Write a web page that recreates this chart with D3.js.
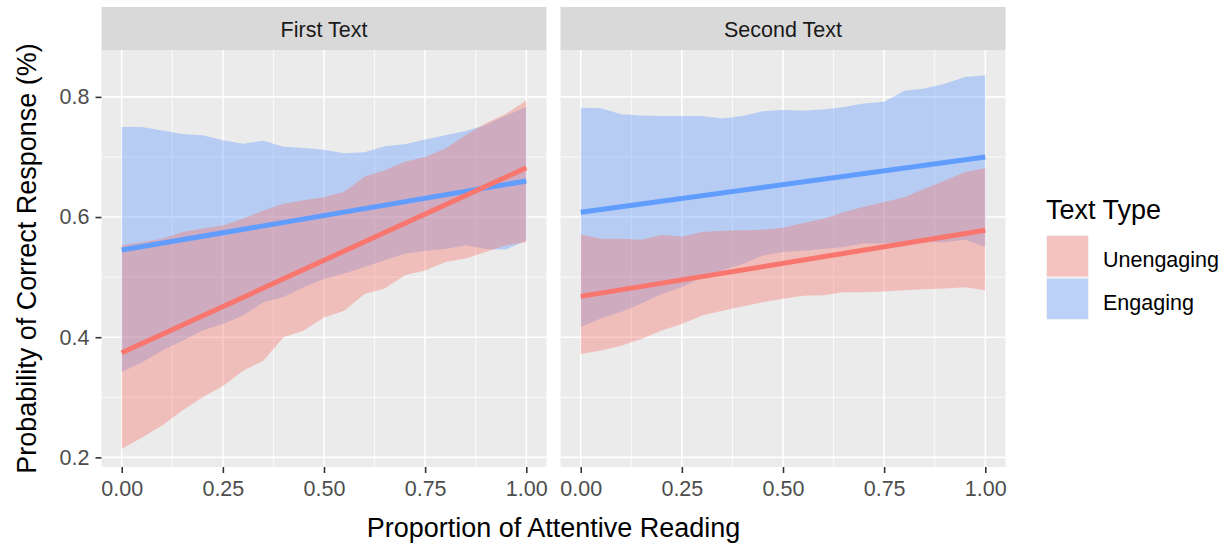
<!DOCTYPE html>
<html>
<head>
<meta charset="utf-8">
<script src="https://cdn.jsdelivr.net/npm/d3@7"></script>
<style>
body { margin: 0; background: #fff; }
text { font-family: "Liberation Sans", Arial, sans-serif; }
</style>
</head>
<body>
<svg id="chart" width="1226" height="544"></svg>
<script>
// data
var panels = ["First Text", "Second Text"];
var groups = ["Unengaging", "Engaging"];
var xTicks = [0, 0.25, 0.5, 0.75, 1];
var yTicks = [0.2, 0.4, 0.6, 0.8];
var xs = [0,0.05,0.1,0.15,0.2,0.25,0.3,0.35,0.4,0.45,0.5,0.55,0.6,0.65,0.7,0.75,0.8,0.85,0.9,0.95,1];

// fitted lines [value at 0, value at 1]
var fit1Unengaging = [0.374, 0.682];
var fit1Engaging = [0.545, 0.660];
var fit2Unengaging = [0.468, 0.578];
var fit2Engaging = [0.608, 0.700];

// ribbons, one value per xs
var lo1Unengaging = [0.214,0.233,0.253,0.278,0.300,0.319,0.344,0.361,0.400,0.411,0.433,0.444,0.472,0.481,0.503,0.511,0.525,0.531,0.542,0.553,0.558];
var hi1Unengaging = [0.553,0.558,0.564,0.575,0.581,0.586,0.597,0.611,0.622,0.628,0.633,0.642,0.667,0.678,0.692,0.700,0.714,0.736,0.756,0.772,0.794];
var lo1Engaging = [0.342,0.358,0.378,0.394,0.411,0.422,0.436,0.458,0.467,0.483,0.497,0.506,0.517,0.528,0.539,0.544,0.547,0.553,0.547,0.546,0.561];
var hi1Engaging = [0.750,0.750,0.744,0.738,0.736,0.728,0.722,0.727,0.717,0.715,0.712,0.706,0.708,0.718,0.721,0.729,0.736,0.743,0.753,0.769,0.783];
var lo2Unengaging = [0.372,0.378,0.386,0.397,0.411,0.422,0.436,0.444,0.451,0.458,0.464,0.469,0.470,0.475,0.475,0.476,0.478,0.480,0.481,0.483,0.478];
var hi2Unengaging = [0.571,0.564,0.564,0.562,0.570,0.567,0.575,0.577,0.578,0.579,0.582,0.590,0.597,0.608,0.617,0.625,0.633,0.647,0.661,0.675,0.681];
var lo2Engaging = [0.417,0.431,0.442,0.456,0.472,0.483,0.500,0.511,0.522,0.536,0.542,0.544,0.547,0.550,0.556,0.556,0.558,0.558,0.558,0.562,0.550];
var hi2Engaging = [0.782,0.781,0.771,0.769,0.768,0.768,0.768,0.764,0.768,0.776,0.778,0.777,0.779,0.783,0.789,0.792,0.810,0.814,0.822,0.833,0.836];

var colors = {Unengaging: "#F8766D", Engaging: "#619CFF"};

// draw order: blue below, pink on top
var series = [
  {panel: 0, group: "Engaging", lo: lo1Engaging, hi: hi1Engaging, fit: fit1Engaging},
  {panel: 0, group: "Unengaging", lo: lo1Unengaging, hi: hi1Unengaging, fit: fit1Unengaging},
  {panel: 1, group: "Engaging", lo: lo2Engaging, hi: hi2Engaging, fit: fit2Engaging},
  {panel: 1, group: "Unengaging", lo: lo2Unengaging, hi: hi2Unengaging, fit: fit2Unengaging}
];

var svg = d3.select("#chart");
var panelLeft = [101.5, 560.5], panelW = 445;
var panelTop = 50, panelBottom = 467, stripTop = 7;
var font = "Liberation Sans, Arial, sans-serif";

var y = d3.scaleLinear().domain([0.184, 0.878]).range([panelBottom, panelTop]);

panels.forEach(function(name, i){
  var x = d3.scaleLinear().domain([-0.05, 1.05]).range([panelLeft[i], panelLeft[i] + panelW]);
  var g = svg.append("g");

  g.append("rect").attr("x", panelLeft[i]).attr("y", stripTop).attr("width", panelW)
    .attr("height", panelTop - stripTop).attr("fill", "#D9D9D9");
  g.append("text").attr("x", panelLeft[i] + panelW/2).attr("y", 36.5)
    .attr("text-anchor", "middle").attr("font-size", 21.5).attr("fill", "#1A1A1A").text(name);

  g.append("rect").attr("x", panelLeft[i]).attr("y", panelTop).attr("width", panelW)
    .attr("height", panelBottom - panelTop).attr("fill", "#EBEBEB");

  // minor grid
  [0.125, 0.375, 0.625, 0.875].forEach(function(v){
    g.append("line").attr("x1", x(v)).attr("x2", x(v)).attr("y1", panelTop).attr("y2", panelBottom)
      .attr("stroke", "#fff").attr("stroke-width", 0.8);
  });
  [0.3, 0.5, 0.7].forEach(function(v){
    g.append("line").attr("x1", panelLeft[i]).attr("x2", panelLeft[i] + panelW).attr("y1", y(v)).attr("y2", y(v))
      .attr("stroke", "#fff").attr("stroke-width", 0.8);
  });
  // major grid
  xTicks.forEach(function(v){
    g.append("line").attr("x1", x(v)).attr("x2", x(v)).attr("y1", panelTop).attr("y2", panelBottom)
      .attr("stroke", "#fff").attr("stroke-width", 1.6);
  });
  yTicks.forEach(function(v){
    g.append("line").attr("x1", panelLeft[i]).attr("x2", panelLeft[i] + panelW).attr("y1", y(v)).attr("y2", y(v))
      .attr("stroke", "#fff").attr("stroke-width", 1.6);
  });

  var area = d3.area().x(function(d){ return x(d[0]); }).y0(function(d){ return y(d[1]); }).y1(function(d){ return y(d[2]); });
  var line = d3.line().x(function(d){ return x(d[0]); }).y(function(d){ return y(d[1]); });

  var ps = series.filter(function(s){ return s.panel === i; });
  ps.forEach(function(s){
    var pts = xs.map(function(v, k){ return [v, s.lo[k], s.hi[k]]; });
    g.append("path").attr("d", area(pts)).attr("fill", colors[s.group]).attr("fill-opacity", 0.38);
  });
  ps.forEach(function(s){
    g.append("path").attr("d", line([[0, s.fit[0]], [1, s.fit[1]]]))
      .attr("stroke", colors[s.group]).attr("stroke-width", 5).attr("fill", "none");
  });

  // x axis
  var xa = g.append("g").attr("transform", "translate(0," + panelBottom + ")")
    .call(d3.axisBottom(x).tickValues(xTicks).tickFormat(d3.format(".2f")).tickSize(6).tickPadding(7.5));
  xa.select(".domain").remove();
  xa.selectAll("line").attr("stroke", "#333").attr("stroke-width", 1.6);
  xa.selectAll("text").attr("font-size", 21.5).attr("fill", "#4D4D4D").attr("font-family", font);

  if (i === 0) {
    var ya = g.append("g").attr("transform", "translate(" + panelLeft[0] + ",0)")
      .call(d3.axisLeft(y).tickValues(yTicks).tickFormat(d3.format(".1f")).tickSize(6).tickPadding(6));
    ya.select(".domain").remove();
    ya.selectAll("line").attr("stroke", "#333").attr("stroke-width", 1.6);
    ya.selectAll("text").attr("font-size", 21.5).attr("fill", "#4D4D4D").attr("font-family", font);
  }
});

svg.append("text").attr("x", (panelLeft[0] + panelLeft[1] + panelW)/2).attr("y", 537)
  .attr("text-anchor", "middle").attr("font-size", 27).attr("fill", "#000").text("Proportion of Attentive Reading");
svg.append("text").attr("transform", "translate(35.5," + ((panelTop + panelBottom)/2) + ") rotate(-90)")
  .attr("text-anchor", "middle").attr("font-size", 27).attr("fill", "#000").text("Probability of Correct Response (%)");

// legend
var leg = svg.append("g");
leg.append("text").attr("x", 1046).attr("y", 218.5).attr("font-size", 27).attr("fill", "#000").text("Text Type");
groups.forEach(function(gname, k){
  var ky = 235 + k * 42.5;
  leg.append("rect").attr("x", 1046).attr("y", ky).attr("width", 43).attr("height", 42.5).attr("fill", "#F2F2F2");
  leg.append("rect").attr("x", 1047).attr("y", ky + 1).attr("width", 41).attr("height", 40.5)
    .attr("fill", colors[gname]).attr("fill-opacity", 0.38);
  leg.append("text").attr("x", 1103).attr("y", ky + 32)
    .attr("font-size", 21.5).attr("fill", "#000").text(gname);
});
</script>
</body>
</html>
